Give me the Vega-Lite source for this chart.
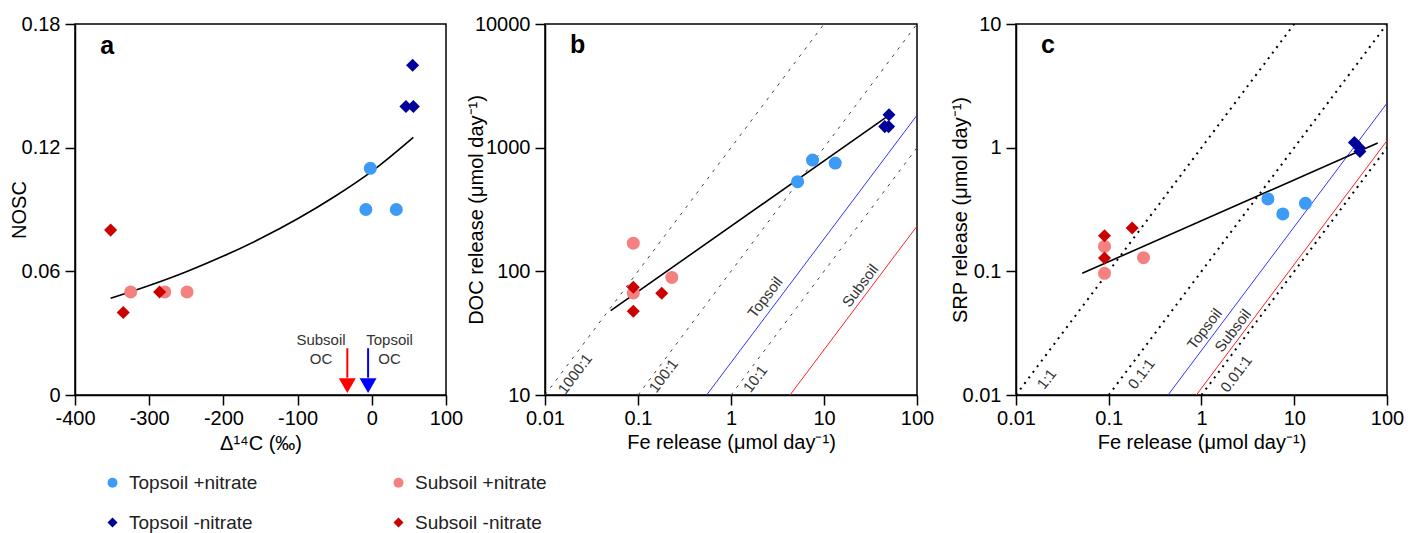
{
  "$schema": "https://vega.github.io/schema/vega-lite/v6.json",
  "padding": {"left": 8, "top": 13, "right": 5, "bottom": 5},
  "spacing": 99,
  "bounds": "flush",
  "config": {
    "font": "Liberation Sans",
    "view": {"stroke": "black", "strokeWidth": 1.5},
    "axis": {"domainColor": "black", "domainWidth": 1.5, "tickColor": "black", "tickWidth": 1.5, "tickSize": 10, "labelFontSize": 20, "labelColor": "black", "titleFontSize": 20, "titleFontWeight": "normal", "titleColor": "black", "grid": false, "labelOverlap": false, "labelFlush": false},
    "axisY": {"labelPadding": 5},
    "axisX": {"labelPadding": 3},
    "legend": {"orient": "none", "legendX": 28, "legendY": 449, "columns": 2, "columnPadding": 131, "rowPadding": 20, "labelFontSize": 19, "labelColor": "#222", "symbolSize": 100, "labelOffset": 7, "symbolStrokeWidth": 0, "padding": 0}
  },
  "datasets": {
    "pa": [
      {"group": "Subsoil +nitrate", "x": -325, "y": 0.050},
      {"group": "Subsoil +nitrate", "x": -279, "y": 0.050},
      {"group": "Subsoil +nitrate", "x": -249, "y": 0.050},
      {"group": "Topsoil +nitrate", "x": -2, "y": 0.110},
      {"group": "Topsoil +nitrate", "x": -8, "y": 0.090},
      {"group": "Topsoil +nitrate", "x": 33, "y": 0.090},
      {"group": "Subsoil -nitrate", "x": -352, "y": 0.080},
      {"group": "Subsoil -nitrate", "x": -335, "y": 0.040},
      {"group": "Subsoil -nitrate", "x": -286, "y": 0.050},
      {"group": "Topsoil -nitrate", "x": 55, "y": 0.160},
      {"group": "Topsoil -nitrate", "x": 46, "y": 0.140},
      {"group": "Topsoil -nitrate", "x": 56, "y": 0.140}
    ],
    "pb": [
      {"group": "Subsoil +nitrate", "x": 0.089, "y": 169},
      {"group": "Subsoil +nitrate", "x": 0.089, "y": 66.8},
      {"group": "Subsoil +nitrate", "x": 0.231, "y": 89.3},
      {"group": "Topsoil +nitrate", "x": 5.2, "y": 531},
      {"group": "Topsoil +nitrate", "x": 7.53, "y": 794},
      {"group": "Topsoil +nitrate", "x": 13.2, "y": 751},
      {"group": "Subsoil -nitrate", "x": 0.089, "y": 74.3},
      {"group": "Subsoil -nitrate", "x": 0.089, "y": 47.5},
      {"group": "Subsoil -nitrate", "x": 0.18, "y": 66.4},
      {"group": "Topsoil -nitrate", "x": 50, "y": 1849},
      {"group": "Topsoil -nitrate", "x": 45, "y": 1480},
      {"group": "Topsoil -nitrate", "x": 49.5, "y": 1480}
    ],
    "pc": [
      {"group": "Subsoil +nitrate", "x": 0.09, "y": 0.159},
      {"group": "Subsoil +nitrate", "x": 0.09, "y": 0.0964},
      {"group": "Subsoil +nitrate", "x": 0.237, "y": 0.129},
      {"group": "Topsoil +nitrate", "x": 5.2, "y": 0.385},
      {"group": "Topsoil +nitrate", "x": 7.53, "y": 0.291},
      {"group": "Topsoil +nitrate", "x": 13.2, "y": 0.355},
      {"group": "Subsoil -nitrate", "x": 0.09, "y": 0.194},
      {"group": "Subsoil -nitrate", "x": 0.09, "y": 0.128},
      {"group": "Subsoil -nitrate", "x": 0.179, "y": 0.224},
      {"group": "Topsoil -nitrate", "x": 44.5, "y": 1.10},
      {"group": "Topsoil -nitrate", "x": 50.3, "y": 1.0},
      {"group": "Topsoil -nitrate", "x": 51, "y": 0.933}
    ]
  },
  "hconcat": [
    {
      "width": 371, "height": 371,
      "encoding": {
        "x": {"field": "x", "type": "quantitative", "scale": {"domain": [-400, 100], "nice": false, "zero": false},
          "axis": {"values": [-400, -300, -200, -100, 0, 100], "labelExpr": "datum.value < 0 ? '-' + abs(datum.value) : '' + datum.value", "title": "Δ¹⁴C (‰)", "titleX": 185.5, "titleY": 54, "titleBaseline": "alphabetic"}},
        "y": {"field": "y", "type": "quantitative", "scale": {"domain": [0, 0.18], "nice": false, "zero": false},
          "axis": {"values": [0, 0.06, 0.12, 0.18], "format": "~g", "title": "NOSC", "titleX": -50, "titleY": 185.5, "titleBaseline": "alphabetic"}}
      },
      "layer": [
        {
          "data": {"values": [
            {"x": -352, "y": 0.0469}, {"x": -300, "y": 0.0531}, {"x": -250, "y": 0.0598}, {"x": -200, "y": 0.0674},
            {"x": -150, "y": 0.0759}, {"x": -100, "y": 0.0855}, {"x": -50, "y": 0.0963}, {"x": 0, "y": 0.1085}, {"x": 56, "y": 0.125}
          ]},
          "mark": {"type": "line", "color": "black", "strokeWidth": 1.6, "interpolate": "monotone"}
        },
        {
          "data": {"name": "pa"},
          "mark": {"type": "point", "filled": true, "opacity": 1, "size": 170},
          "encoding": {
            "color": {"field": "group", "type": "nominal", "title": null,
              "scale": {"domain": ["Topsoil +nitrate", "Topsoil -nitrate", "Subsoil +nitrate", "Subsoil -nitrate"], "range": ["#3d9bf5", "#00009b", "#f58080", "#cc0000"]}},
            "shape": {"field": "group", "type": "nominal", "title": null,
              "scale": {"domain": ["Topsoil +nitrate", "Topsoil -nitrate", "Subsoil +nitrate", "Subsoil -nitrate"], "range": ["circle", "diamond", "circle", "diamond"]}}
          }
        },
        {
          "data": {"values": [{"x": -33, "y": 0.0227, "y2": 0.0084}]},
          "mark": {"type": "rule", "color": "#ff0000", "strokeWidth": 2},
          "encoding": {"y2": {"field": "y2"}}
        },
        {
          "data": {"values": [{"x": -33, "y": 0.0045}]},
          "mark": {"type": "point", "shape": "triangle-down", "filled": true, "color": "#ff0000", "opacity": 1, "size": 289}
        },
        {
          "data": {"values": [{"x": -5, "y": 0.0227, "y2": 0.0084}]},
          "mark": {"type": "rule", "color": "#0000ff", "strokeWidth": 2},
          "encoding": {"y2": {"field": "y2"}}
        },
        {
          "data": {"values": [{"x": -5, "y": 0.0045}]},
          "mark": {"type": "point", "shape": "triangle-down", "filled": true, "color": "#0000ff", "opacity": 1, "size": 289}
        },
        {
          "data": {"values": [
            {"x": -68.5, "y": 0.0267, "t": "Subsoil"}, {"x": -68.5, "y": 0.0176, "t": "OC"},
            {"x": 24, "y": 0.0267, "t": "Topsoil"}, {"x": 24, "y": 0.0176, "t": "OC"}
          ]},
          "mark": {"type": "text", "fontSize": 15, "color": "#333", "align": "center", "baseline": "middle"},
          "encoding": {"text": {"field": "t"}}
        },
        {
          "data": {"values": [{"x": -366, "y": 0.1654, "t": "a"}]},
          "mark": {"type": "text", "fontSize": 25, "fontWeight": "bold", "color": "black", "align": "left", "baseline": "alphabetic"},
          "encoding": {"text": {"field": "t"}}
        }
      ]
    },
    {
      "width": 372, "height": 371,
      "encoding": {
        "x": {"field": "x", "type": "quantitative", "scale": {"type": "log", "domain": [0.01, 100], "nice": false},
          "axis": {"values": [0.01, 0.1, 1, 10, 100], "format": "~g", "title": "Fe release (μmol day⁻¹)", "titleX": 186, "titleY": 53, "titleBaseline": "alphabetic"}},
        "y": {"field": "y", "type": "quantitative", "scale": {"type": "log", "domain": [10, 10000], "nice": false},
          "axis": {"values": [10, 100, 1000, 10000], "format": "~g", "title": "DOC release (μmol day⁻¹)", "titleX": -63, "titleY": 185.5, "titleBaseline": "alphabetic"}}
      },
      "layer": [
        {
          "data": {"values": [
            {"r": "1000:1", "x": 0.01, "y": 10}, {"r": "1000:1", "x": 10, "y": 10000},
            {"r": "100:1", "x": 0.1, "y": 10}, {"r": "100:1", "x": 100, "y": 10000},
            {"r": "10:1", "x": 1, "y": 10}, {"r": "10:1", "x": 100, "y": 1000}
          ]},
          "mark": {"type": "line", "color": "#444", "strokeWidth": 1, "strokeDash": [3, 6], "clip": true},
          "encoding": {"detail": {"field": "r"}}
        },
        {
          "data": {"values": [{"x": 0.547, "y": 10}, {"x": 100, "y": 1830}]},
          "mark": {"type": "line", "color": "#3333ff", "strokeWidth": 1, "clip": true}
        },
        {
          "data": {"values": [{"x": 4.31, "y": 10}, {"x": 100, "y": 232}]},
          "mark": {"type": "line", "color": "#ff2020", "strokeWidth": 1, "clip": true}
        },
        {
          "data": {"values": [{"x": 0.0509, "y": 48.1}, {"x": 46.4, "y": 1758}]},
          "mark": {"type": "line", "color": "black", "strokeWidth": 1.6}
        },
        {
          "data": {"name": "pb"},
          "mark": {"type": "point", "filled": true, "opacity": 1, "size": 170},
          "encoding": {
            "color": {"field": "group", "type": "nominal", "title": null,
              "scale": {"domain": ["Topsoil +nitrate", "Topsoil -nitrate", "Subsoil +nitrate", "Subsoil -nitrate"], "range": ["#3d9bf5", "#00009b", "#f58080", "#cc0000"]}},
            "shape": {"field": "group", "type": "nominal", "title": null,
              "scale": {"domain": ["Topsoil +nitrate", "Topsoil -nitrate", "Subsoil +nitrate", "Subsoil -nitrate"], "range": ["circle", "diamond", "circle", "diamond"]}}
          }
        },
        {
          "data": {"values": [
            {"x": 0.021, "y": 14.8, "t": "1000:1"}, {"x": 0.188, "y": 14.3, "t": "100:1"}, {"x": 1.82, "y": 13.5, "t": "10:1"},
            {"x": 2.33, "y": 61.6, "t": "Topsoil"}, {"x": 24.5, "y": 76.6, "t": "Subsoil"}
          ]},
          "mark": {"type": "text", "fontSize": 15, "color": "#333", "align": "center", "baseline": "middle", "angle": 307},
          "encoding": {"text": {"field": "t"}}
        },
        {
          "data": {"values": [{"x": 0.0186, "y": 5834, "t": "b"}]},
          "mark": {"type": "text", "fontSize": 25, "fontWeight": "bold", "color": "black", "align": "left", "baseline": "alphabetic"},
          "encoding": {"text": {"field": "t"}}
        }
      ]
    },
    {
      "width": 371, "height": 371,
      "encoding": {
        "x": {"field": "x", "type": "quantitative", "scale": {"type": "log", "domain": [0.01, 100], "nice": false},
          "axis": {"values": [0.01, 0.1, 1, 10, 100], "format": "~g", "title": "Fe release (μmol day⁻¹)", "titleX": 185.5, "titleY": 53, "titleBaseline": "alphabetic"}},
        "y": {"field": "y", "type": "quantitative", "scale": {"type": "log", "domain": [0.01, 10], "nice": false},
          "axis": {"values": [0.01, 0.1, 1, 10], "format": "~g", "title": "SRP release (μmol day⁻¹)", "titleX": -50, "titleY": 185.5, "titleBaseline": "alphabetic"}}
      },
      "layer": [
        {
          "data": {"values": [
            {"r": "1:1", "x": 0.01, "y": 0.01}, {"r": "1:1", "x": 10, "y": 10},
            {"r": "0.1:1", "x": 0.1, "y": 0.01}, {"r": "0.1:1", "x": 100, "y": 10},
            {"r": "0.01:1", "x": 1, "y": 0.01}, {"r": "0.01:1", "x": 100, "y": 1}
          ]},
          "mark": {"type": "line", "color": "black", "strokeWidth": 2, "strokeDash": [2, 5], "clip": true},
          "encoding": {"detail": {"field": "r"}}
        },
        {
          "data": {"values": [{"x": 0.436, "y": 0.01}, {"x": 100, "y": 2.29}]},
          "mark": {"type": "line", "color": "#3333ff", "strokeWidth": 1, "clip": true}
        },
        {
          "data": {"values": [{"x": 0.88, "y": 0.01}, {"x": 100, "y": 1.14}]},
          "mark": {"type": "line", "color": "#ff2020", "strokeWidth": 1, "clip": true}
        },
        {
          "data": {"values": [{"x": 0.0518, "y": 0.0964}, {"x": 79.4, "y": 1.09}]},
          "mark": {"type": "line", "color": "black", "strokeWidth": 1.6}
        },
        {
          "data": {"name": "pc"},
          "mark": {"type": "point", "filled": true, "opacity": 1, "size": 170},
          "encoding": {
            "color": {"field": "group", "type": "nominal", "title": null,
              "scale": {"domain": ["Topsoil +nitrate", "Topsoil -nitrate", "Subsoil +nitrate", "Subsoil -nitrate"], "range": ["#3d9bf5", "#00009b", "#f58080", "#cc0000"]}},
            "shape": {"field": "group", "type": "nominal", "title": null,
              "scale": {"domain": ["Topsoil +nitrate", "Topsoil -nitrate", "Subsoil +nitrate", "Subsoil -nitrate"], "range": ["circle", "diamond", "circle", "diamond"]}}
          }
        },
        {
          "data": {"values": [
            {"x": 0.0214, "y": 0.01346, "t": "1:1"}, {"x": 0.225, "y": 0.0148, "t": "0.1:1"}, {"x": 2.37, "y": 0.0148, "t": "0.01:1"},
            {"x": 1.08, "y": 0.0342, "t": "Topsoil"}, {"x": 2.18, "y": 0.0331, "t": "Subsoil"}
          ]},
          "mark": {"type": "text", "fontSize": 15, "color": "#333", "align": "center", "baseline": "middle", "angle": 307},
          "encoding": {"text": {"field": "t"}}
        },
        {
          "data": {"values": [{"x": 0.0186, "y": 5.83, "t": "c"}]},
          "mark": {"type": "text", "fontSize": 25, "fontWeight": "bold", "color": "black", "align": "left", "baseline": "alphabetic"},
          "encoding": {"text": {"field": "t"}}
        }
      ]
    }
  ]
}
